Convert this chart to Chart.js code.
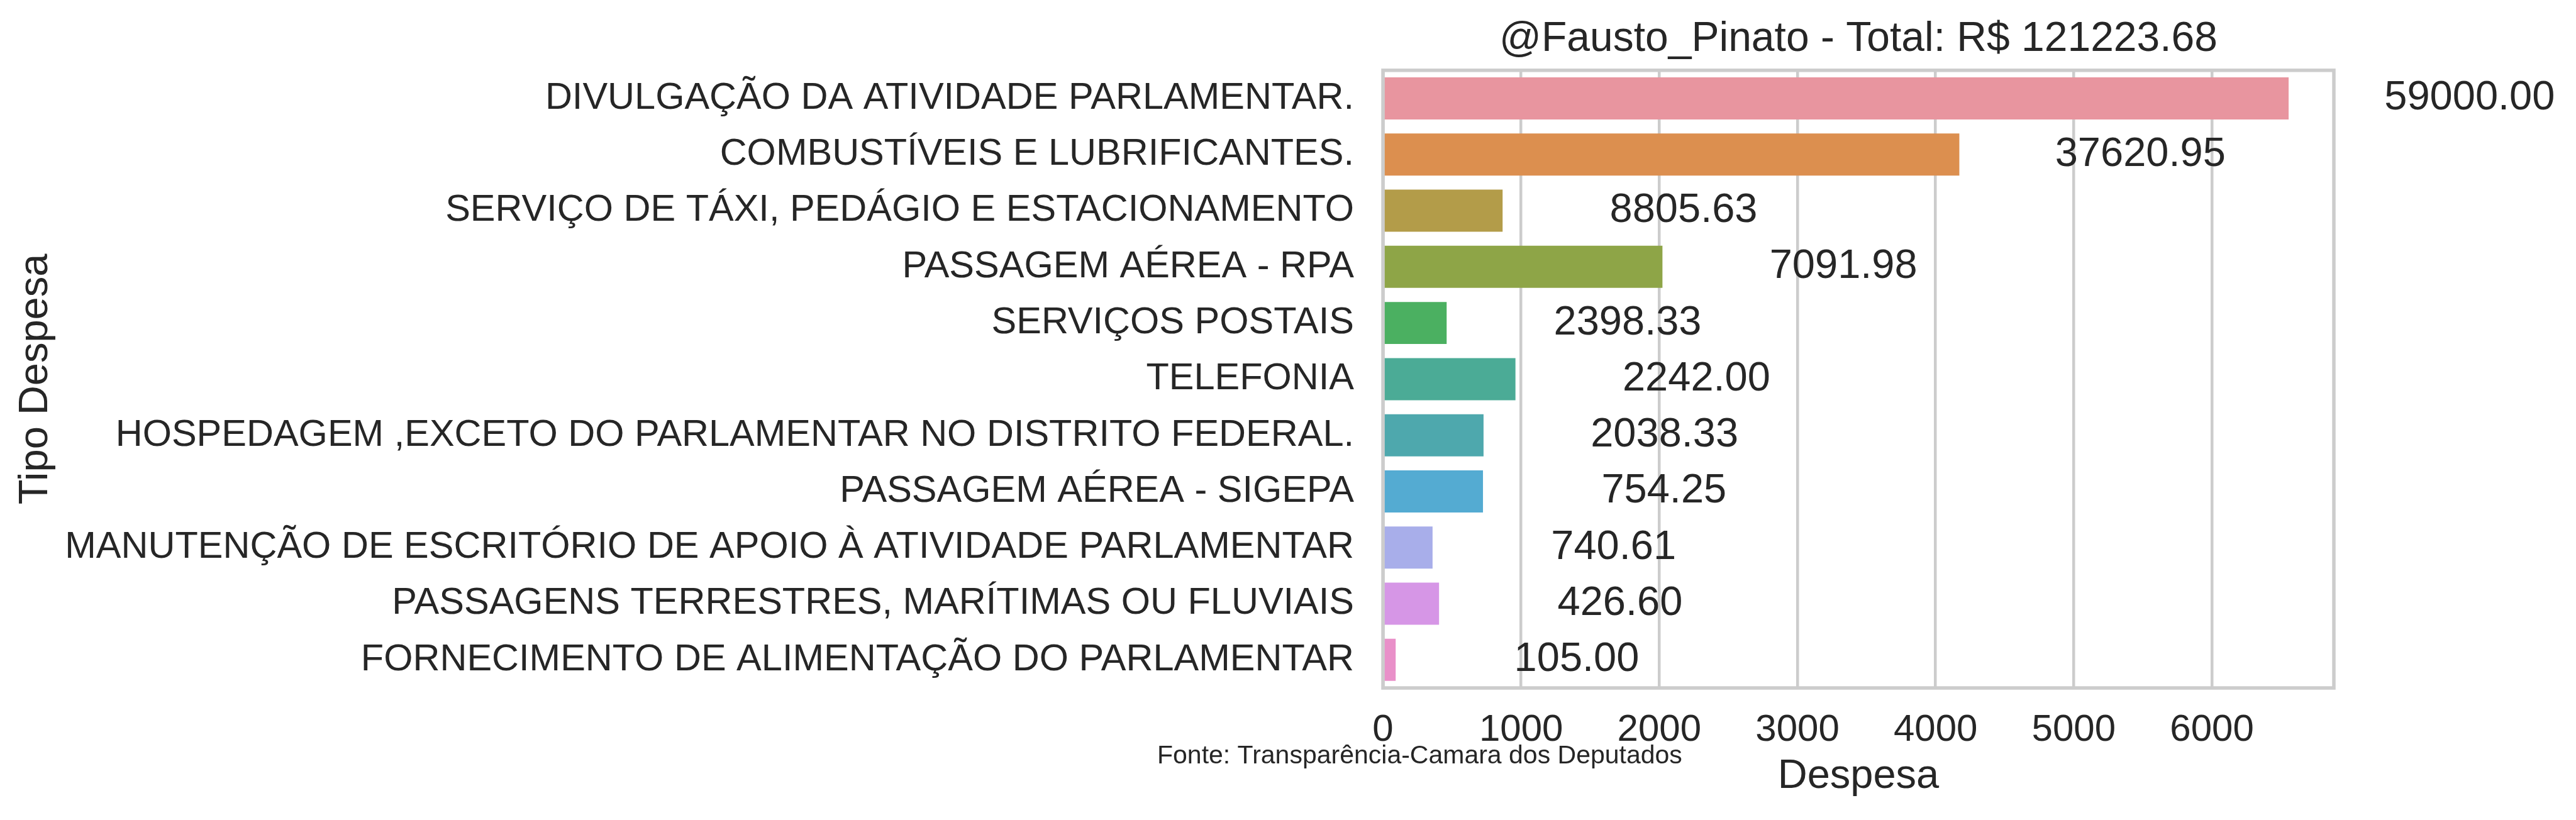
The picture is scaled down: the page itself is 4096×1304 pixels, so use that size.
<!DOCTYPE html>
<html><head><meta charset="utf-8">
<script src="https://cdn.jsdelivr.net/npm/chart.js@4.4.0/dist/chart.umd.min.js"></script>
<style>html,body{margin:0;padding:0;background:#fff;overflow:hidden}#wrap{width:4096px;height:1304px;position:relative}</style>
</head><body><div id="wrap"><canvas id="c" width="4096" height="1304"></canvas></div>
<script>
const categories = [
  "DIVULGAÇÃO DA ATIVIDADE PARLAMENTAR.",
  "COMBUSTÍVEIS E LUBRIFICANTES.",
  "SERVIÇO DE TÁXI, PEDÁGIO E ESTACIONAMENTO",
  "PASSAGEM AÉREA - RPA",
  "SERVIÇOS POSTAIS",
  "TELEFONIA",
  "HOSPEDAGEM ,EXCETO DO PARLAMENTAR NO DISTRITO FEDERAL.",
  "PASSAGEM AÉREA - SIGEPA",
  "MANUTENÇÃO DE ESCRITÓRIO DE APOIO À ATIVIDADE PARLAMENTAR",
  "PASSAGENS TERRESTRES, MARÍTIMAS OU FLUVIAIS",
  "FORNECIMENTO DE ALIMENTAÇÃO DO PARLAMENTAR"
];
const meanValues = [6555.56, 4172, 866, 2023, 461, 959, 728, 724, 359, 406, 92];
const totalLabels = ["59000.00","37620.95","8805.63","7091.98","2398.33","2242.00","2038.33","754.25","740.61","426.60","105.00"];
const barColors = ["#e8959f","#dc8f4f","#b39c49","#8ea547","#4bb061","#4bab96","#4ea8ad","#54abd2","#a8aeea","#d696e6","#e990c9"];
const xTicks = [0, 1000, 2000, 3000, 4000, 5000, 6000];
const xMax = 6883;
const labelShift = 1310;
const titleText = "@Fausto_Pinato - Total: R$ 121223.68";
const xLabel = "Despesa";
const yLabel = "Tipo Despesa";
const sourceText = "Fonte: Transparência-Camara dos Deputados";

const FAMILY = '"Liberation Sans", Arial, Helvetica, sans-serif';
const TXT = '#262626';
Chart.defaults.font.family = FAMILY;

const framePlugin = {
  id: 'frame',
  afterDatasetsDraw(chart) {
    const {ctx, chartArea: a} = chart;
    ctx.save();
    ctx.strokeStyle = '#cccccc';
    ctx.lineWidth = 5.5;
    ctx.strokeRect(a.left, a.top, a.right - a.left, a.bottom - a.top);
    ctx.restore();
  }
};
const valuePlugin = {
  id: 'values',
  afterDatasetsDraw(chart) {
    const {ctx} = chart;
    const xs = chart.scales.x;
    const meta = chart.getDatasetMeta(0);
    ctx.save();
    ctx.fillStyle = TXT;
    ctx.font = '65px ' + FAMILY;
    ctx.textAlign = 'center';
    ctx.textBaseline = 'middle';
    meta.data.forEach((bar, i) => {
      ctx.fillText(totalLabels[i], xs.getPixelForValue(meanValues[i] + labelShift), bar.y);
    });
    ctx.restore();
  }
};
const sourcePlugin = {
  id: 'source',
  afterDraw(chart) {
    const {ctx, chartArea: a} = chart;
    ctx.save();
    ctx.fillStyle = TXT;
    ctx.font = '41px ' + FAMILY;
    ctx.textAlign = 'left';
    ctx.textBaseline = 'alphabetic';
    ctx.fillText(sourceText, a.left - 359, a.bottom + 120);
    ctx.restore();
  }
};

new Chart(document.getElementById('c'), {
  type: 'bar',
  data: {
    labels: categories,
    datasets: [{
      data: meanValues,
      backgroundColor: barColors,
      borderWidth: 0,
      barPercentage: 0.75,
      categoryPercentage: 1.0
    }]
  },
  options: {
    indexAxis: 'y',
    responsive: false,
    animation: false,
    devicePixelRatio: 1,
    layout: {padding: {left: 0, right: 385, top: 0, bottom: 0}},
    plugins: {
      legend: {display: false},
      tooltip: {enabled: false},
      title: {
        display: true, text: titleText, color: TXT, fullSize: false,
        font: {size: 66, weight: 'normal', family: FAMILY},
        padding: {top: 23, bottom: 9.6}
      }
    },
    scales: {
      x: {
        type: 'linear', min: 0, max: xMax,
        ticks: {color: TXT, font: {size: 60}, padding: 31, maxRotation: 0, autoSkip: false,
                callback: v => String(v)},
        afterBuildTicks(s) { s.ticks = xTicks.map(v => ({value: v})); },
        grid: {color: '#cccccc', lineWidth: 4.5, drawTicks: false},
        border: {display: false},
        title: {display: true, text: xLabel, color: TXT, font: {size: 65}, padding: {top: 0, bottom: 30}},
        afterFit(s) { s.height = 210; }
      },
      y: {
        type: 'category',
        ticks: {color: TXT, font: {size: 59.5}, padding: 46},
        grid: {display: false, drawTicks: false},
        border: {display: false},
        title: {display: true, text: yLabel, color: TXT, font: {size: 65}, padding: {top: 18, bottom: 0}},
        afterFit(s) { s.width = 2199; }
      }
    }
  },
  plugins: [framePlugin, valuePlugin, sourcePlugin]
});
</script></body></html>
